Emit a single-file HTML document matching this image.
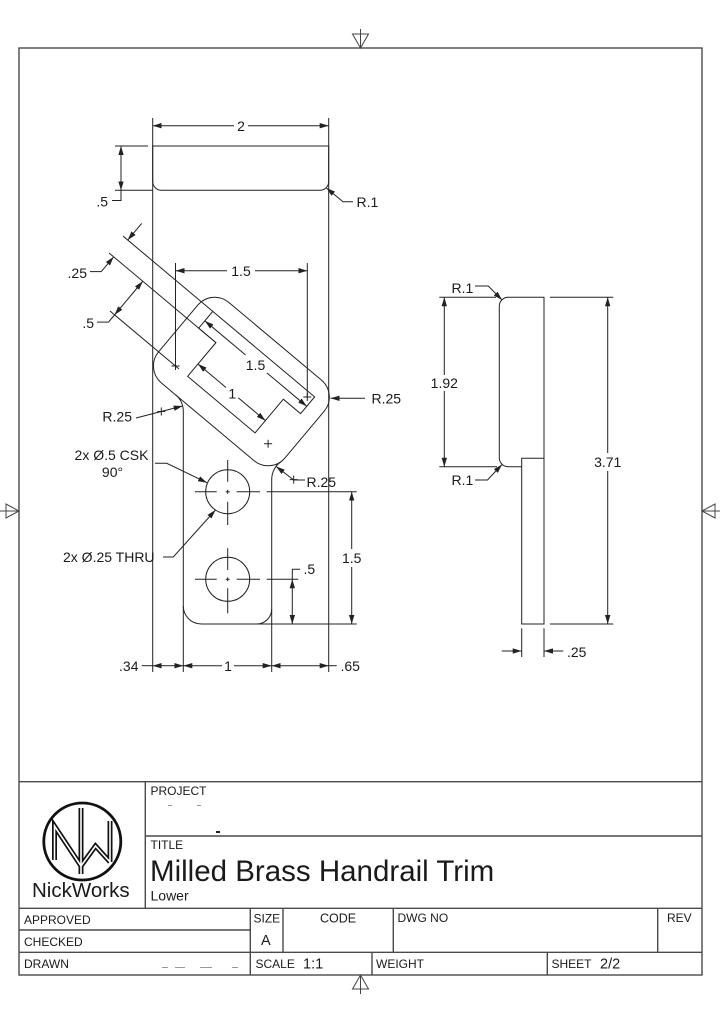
<!DOCTYPE html>
<html><head><meta charset="utf-8">
<style>
html,body{margin:0;padding:0;background:#fff}
svg{display:block}
text{font-family:"Liberation Sans",Arial,sans-serif;fill:#1a1a1a}
</style></head>
<body>
<svg width="720" height="1024" viewBox="0 0 720 1024" xmlns="http://www.w3.org/2000/svg">
<defs>
<marker id="ar" viewBox="0 0 10 6" refX="10" refY="3" markerWidth="9" markerHeight="5.4" markerUnits="userSpaceOnUse" orient="auto-start-reverse">
<path d="M0,0 L10,3 L0,6 z" fill="#222"/>
</marker>
</defs>

<!-- Border & markers -->
<g stroke="#4a4a4a" stroke-width="1.4" fill="none">
<rect x="19" y="48" width="683" height="927"/>
<line x1="19" y1="781.7" x2="702" y2="781.7"/>
<line x1="145.3" y1="781.7" x2="145.3" y2="908.3"/>
<line x1="145.3" y1="836" x2="702" y2="836"/>
<line x1="19" y1="908.3" x2="702" y2="908.3"/>
<line x1="19" y1="930" x2="250.3" y2="930"/>
<line x1="19" y1="952.3" x2="702" y2="952.3"/>
<line x1="250.3" y1="908.3" x2="250.3" y2="975"/>
<line x1="283" y1="908.3" x2="283" y2="952.3"/>
<line x1="393.3" y1="908.3" x2="393.3" y2="952.3"/>
<line x1="657.7" y1="908.3" x2="657.7" y2="952.3"/>
<line x1="372" y1="952.3" x2="372" y2="975"/>
<line x1="547.3" y1="952.3" x2="547.3" y2="975"/>
</g>
<g stroke="#444" stroke-width="1" fill="none">
<path d="M352.5,34 L368.5,34 L360.5,48 Z M360.5,29 V48"/>
<path d="M352.5,989 L368.5,989 L360.5,975 Z M360.5,975 V994"/>
<path d="M6,504 L6,518 L19,511 Z M0,511 H19"/>
<path d="M715,504 L715,518 L702,511 Z M702,511 H720"/>
</g>

<!-- Main view -->
<g stroke="#222" stroke-width="1" fill="none">
<path d="M152.7,146 H328.7 V181.5 A8.8,8.8 0 0 1 319.9,190.3 H161.5 A8.8,8.8 0 0 1 152.7,181.5 Z"/>
<line x1="152.7" y1="118" x2="152.7" y2="672"/>
<line x1="328.7" y1="118" x2="328.7" y2="672"/>
<line x1="234" y1="125.7" x2="152.7" y2="125.7" marker-end="url(#ar)"/>
<line x1="248" y1="125.7" x2="328.7" y2="125.7" marker-end="url(#ar)"/>
<line x1="115" y1="146" x2="148" y2="146"/>
<line x1="115" y1="190.3" x2="153" y2="190.3"/>
<line x1="121" y1="146" x2="121" y2="190.3" marker-start="url(#ar)" marker-end="url(#ar)"/>
<path d="M121,190.3 V200.5 H112"/>
<path d="M353,201.7 H343 L326.4,188" marker-end="url(#ar)"/>

<g transform="translate(241.4 381.5) rotate(40)">
<rect x="-82.5" y="-52.5" width="165" height="105" rx="22"/>
<polygon points="-67,-35.3 66,-35.3 66,-13.4 43.5,-13.4 43.5,30.6 -44.5,30.6 -44.5,-13.4 -67,-13.4"/>
<line x1="-184" y1="-35.3" x2="-67" y2="-35.3"/>
<line x1="-184" y1="-13.4" x2="-44.5" y2="-13.4"/>
<line x1="-146" y1="30.5" x2="-56" y2="30.5"/>
<line x1="-178" y1="-57" x2="-178" y2="-35.3" marker-end="url(#ar)"/>
<line x1="-178" y1="6" x2="-178" y2="-13.4" marker-end="url(#ar)"/>
<line x1="-140" y1="-13.4" x2="-140" y2="30.5" marker-start="url(#ar)" marker-end="url(#ar)"/>
<line x1="-140" y1="30.5" x2="-140" y2="40"/>
<line x1="-14" y1="-23" x2="-67" y2="-23" marker-end="url(#ar)"/>
<line x1="14" y1="-23" x2="66" y2="-23" marker-end="url(#ar)"/>
<line x1="-8" y1="14.5" x2="-44.5" y2="14.5" marker-end="url(#ar)"/>
<line x1="8" y1="14.5" x2="43.5" y2="14.5" marker-end="url(#ar)"/>
</g>
<path d="M101.2,271.6 H90"/>
<path d="M108.5,322.1 H97"/>

<line x1="175.5" y1="263" x2="175.5" y2="366"/>
<line x1="307.3" y1="263" x2="307.3" y2="397"/>
<line x1="227" y1="270.7" x2="175.5" y2="270.7" marker-end="url(#ar)"/>
<line x1="255" y1="270.7" x2="307.3" y2="270.7" marker-end="url(#ar)"/>

<path d="M171.5,366 H179.5 M175.5,362 V370"/>
<path d="M303.3,397 H311.3 M307.3,393 V401"/>
<path d="M264.1,443.8 H272.1 M268.1,439.8 V447.8"/>

<path d="M175.4,394.6 A22,22 0 0 1 183.3,411.5 V606 A18,18 0 0 0 201.3,624 H256.7 A15,15 0 0 0 271.7,609 V479.6 A22,22 0 0 1 280.9,461.7"/>
<line x1="183.3" y1="606" x2="183.3" y2="672"/>
<line x1="271.7" y1="609" x2="271.7" y2="672"/>
<line x1="256.7" y1="624" x2="356.7" y2="624"/>

<path d="M365,398.3 H330.5" marker-end="url(#ar)"/>
<path d="M136,418 L182.6,406" marker-end="url(#ar)"/>
<path d="M157.3,411.5 H165.3 M161.3,407.5 V415.5"/>
<path d="M305,480 H293.7 L276.1,466.4" marker-end="url(#ar)"/>
<path d="M289.7,479.6 H297.7 M293.7,475.6 V483.6"/>

<circle cx="227.7" cy="491.7" r="22"/>
<circle cx="227.7" cy="579.3" r="22"/>
<path d="M195,491.7 H216.7 M225.7,491.7 H229.7 M236.7,491.7 H260 M266.7,491.7 H356.7"/>
<path d="M227.7,460 V481.7 M227.7,489.7 V493.7 M227.7,501.7 V525"/>
<path d="M195,579.3 H216.7 M225.7,579.3 H229.7 M236.7,579.3 H260 M266.7,579.3 H298.3"/>
<path d="M227.7,548.3 V570 M227.7,577.3 V581.3 M227.7,588.3 V613.3"/>

<path d="M155,463.3 H166.7 L207,482.7" marker-end="url(#ar)"/>
<path d="M163,557 H173.3 L215.5,510" marker-end="url(#ar)"/>

<line x1="351.7" y1="549" x2="351.7" y2="491.7" marker-end="url(#ar)"/>
<line x1="351.7" y1="567" x2="351.7" y2="624" marker-end="url(#ar)"/>
<line x1="292.3" y1="579.3" x2="292.3" y2="624" marker-start="url(#ar)" marker-end="url(#ar)"/>
<path d="M292.3,579.3 V569.3 H300"/>

<line x1="141.7" y1="665.7" x2="152.7" y2="665.7"/>
<line x1="168" y1="665.7" x2="152.7" y2="665.7" marker-end="url(#ar)"/>
<line x1="168" y1="665.7" x2="183.3" y2="665.7" marker-end="url(#ar)"/>
<line x1="222" y1="665.7" x2="183.3" y2="665.7" marker-end="url(#ar)"/>
<line x1="234" y1="665.7" x2="271.7" y2="665.7" marker-end="url(#ar)"/>
<line x1="300" y1="665.7" x2="271.7" y2="665.7" marker-end="url(#ar)"/>
<line x1="300" y1="665.7" x2="328.7" y2="665.7" marker-end="url(#ar)"/>
<line x1="328.7" y1="665.7" x2="336.7" y2="665.7"/>
</g>

<!-- Side view -->
<g stroke="#222" stroke-width="1" fill="none">
<path d="M521.7,466.7 H508.1 A8.8,8.8 0 0 1 499.3,457.9 V306.1 A8.8,8.8 0 0 1 508.1,297.3 H544 V624 H521.7 V458.3 H544"/>
<line x1="439.3" y1="297.3" x2="496" y2="297.3"/>
<line x1="550" y1="297.3" x2="613.3" y2="297.3"/>
<line x1="439.3" y1="466.7" x2="497" y2="466.7"/>
<line x1="550" y1="624" x2="613.3" y2="624"/>
<line x1="444.3" y1="375" x2="444.3" y2="297.3" marker-end="url(#ar)"/>
<line x1="444.3" y1="391" x2="444.3" y2="466.7" marker-end="url(#ar)"/>
<line x1="607.7" y1="453" x2="607.7" y2="297.3" marker-end="url(#ar)"/>
<line x1="607.7" y1="471" x2="607.7" y2="624" marker-end="url(#ar)"/>
<path d="M475,286 H488.3 L502,300" marker-end="url(#ar)"/>
<path d="M475,480 H487.5 L502,464.5" marker-end="url(#ar)"/>
<line x1="521.7" y1="628.3" x2="521.7" y2="657"/>
<line x1="544" y1="628.3" x2="544" y2="657"/>
<line x1="501.7" y1="651" x2="521.7" y2="651" marker-end="url(#ar)"/>
<line x1="563.3" y1="651" x2="544" y2="651" marker-end="url(#ar)"/>
</g>

<!-- Dimension text -->
<g font-size="14">
<text x="241" y="131" text-anchor="middle">2</text>
<text x="108" y="206.5" text-anchor="end">.5</text>
<text x="356.5" y="207">R.1</text>
<text x="87" y="278" text-anchor="end">.25</text>
<text x="241" y="276" text-anchor="middle">1.5</text>
<text x="94" y="328" text-anchor="end">.5</text>
<text x="255.5" y="370" text-anchor="middle">1.5</text>
<text x="232.3" y="398.5" text-anchor="middle">1</text>
<text x="371.5" y="403.5">R.25</text>
<text x="132" y="421.5" text-anchor="end">R.25</text>
<text x="111.5" y="460" text-anchor="middle">2x Ø.5 CSK</text>
<text x="112.5" y="477" text-anchor="middle">90°</text>
<text x="306.5" y="487">R.25</text>
<text x="63" y="562">2x Ø.25 THRU</text>
<text x="303.5" y="574">.5</text>
<text x="351.7" y="563" text-anchor="middle">1.5</text>
<text x="138.5" y="671" text-anchor="end">.34</text>
<text x="228" y="671" text-anchor="middle">1</text>
<text x="340.5" y="671">.65</text>
<text x="451.5" y="293">R.1</text>
<text x="444.3" y="388" text-anchor="middle">1.92</text>
<text x="451.5" y="485">R.1</text>
<text x="607.7" y="467" text-anchor="middle">3.71</text>
<text x="567" y="657">.25</text>
</g>

<!-- Logo -->
<circle cx="82.3" cy="841.5" r="38.5" fill="none" stroke="#111" stroke-width="2.8"/>
<g fill="none" stroke-linejoin="miter">
<g stroke="#111" stroke-width="5">
<polyline points="54.5,860 54.5,826 81,866"/>
<line x1="81" y1="808" x2="81" y2="874"/>
<polyline points="81,866 95.5,846 110,862"/>
<line x1="110" y1="821" x2="110" y2="862"/>
</g>
<g stroke="#fff" stroke-width="1.6">
<polyline points="54.5,861 54.5,826 81,866"/>
<line x1="81" y1="807" x2="81" y2="875"/>
<polyline points="81,866 95.5,846 110,862"/>
<line x1="110" y1="820" x2="110" y2="863"/>
</g>
</g>

<!-- Title block text -->
<g font-size="12">
<text x="150.5" y="795">PROJECT</text>
<text x="150.5" y="849">TITLE</text>
<text x="24" y="924">APPROVED</text>
<text x="24" y="946">CHECKED</text>
<text x="24" y="968">DRAWN</text>
<text x="253.5" y="922.5">SIZE</text>
<text x="320" y="922.5" font-size="12.5">CODE</text>
<text x="397.5" y="922">DWG NO</text>
<text x="667" y="922">REV</text>
<text x="255.5" y="968">SCALE</text>
<text x="376" y="968">WEIGHT</text>
<text x="551.5" y="968">SHEET</text>
</g>
<text x="150" y="881" font-size="29.5">Milled Brass Handrail Trim</text>
<text x="150.5" y="900.5" font-size="14">Lower</text>
<text x="32" y="897" font-size="20.5">NickWorks</text>
<text x="261" y="945" font-size="14.5">A</text>
<text x="303" y="968.5" font-size="14.5">1:1</text>
<text x="600" y="968.5" font-size="14.5">2/2</text>

<g fill="#999">
<rect x="168" y="805" width="4" height="1"/>
<rect x="197" y="805" width="4" height="1"/>
<rect x="162" y="967" width="6" height="1"/>
<rect x="175" y="967" width="10" height="1"/>
<rect x="200" y="967" width="12" height="1"/>
<rect x="232" y="967" width="6" height="1"/>
</g>
<rect x="216" y="831" width="4" height="2" fill="#222"/>
</svg>
</body></html>
